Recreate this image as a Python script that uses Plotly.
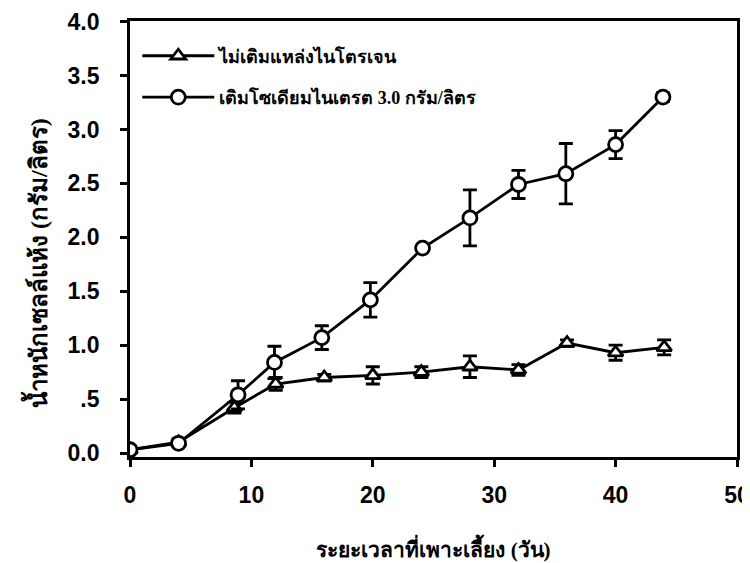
import plotly.graph_objects as go

days_tri = [0, 4, 8.6, 12, 16, 20, 24, 28, 32, 36, 40, 44]
no_nitrogen = [0.03, 0.10, 0.42, 0.64, 0.70, 0.72, 0.75, 0.80, 0.77, 1.02, 0.93, 0.98]
no_nitrogen_err = [0.02, 0.03, 0.05, 0.06, 0.03, 0.08, 0.05, 0.10, 0.05, 0.03, 0.07, 0.07]

days_circ = [0, 4, 8.9, 11.9, 15.8, 19.8, 24.1, 28, 32, 35.9, 40, 43.9]
nitrate = [0.03, 0.09, 0.54, 0.84, 1.07, 1.42, 1.90, 2.18, 2.49, 2.59, 2.86, 3.30]
nitrate_err = [0.02, 0.03, 0.13, 0.15, 0.11, 0.16, 0.02, 0.26, 0.13, 0.28, 0.13, 0.04]

label_tri = "ไม่เติมแหล่งไนโตรเจน"
label_circ = "เติมโซเดียมไนเตรต 3.0 กรัม/ลิตร"
x_title = "ระยะเวลาที่เพาะเลี้ยง (วัน)"
y_title = "น้ำหนักเซลล์แห้ง (กรัม/ลิตร)"

y_tickvals = [0, 0.5, 1.0, 1.5, 2.0, 2.5, 3.0, 3.5, 4.0]
y_ticktext = ["0.0", ".5", "1.0", "1.5", "2.0", "2.5", "3.0", "3.5", "4.0"]
x_tickvals = [0, 10, 20, 30, 40, 50]
x_ticktext = ["0", "10", "20", "30", "40", "50"]

thai_font = "Norasi, Liberation Serif, Times New Roman, serif"
tick_font = dict(family="Liberation Sans, Arial, sans-serif", size=23, color="black", weight="bold")

fig = go.Figure()
fig.add_trace(go.Scatter(
    x=days_tri, y=no_nitrogen, name=label_tri, mode="lines+markers", legendgroup="a",
    line=dict(color="black", width=2.8),
    marker=dict(symbol="triangle-up", size=13, color="white",
                line=dict(color="black", width=2.8)),
    error_y=dict(type="data", array=no_nitrogen_err, visible=True,
                 color="black", thickness=2.8, width=7),
))
fig.add_trace(go.Scatter(
    x=days_circ, y=nitrate, name=label_circ, mode="lines+markers", legendgroup="b",
    line=dict(color="black", width=2.8),
    marker=dict(symbol="circle", size=14, color="white",
                line=dict(color="black", width=2.8)),
    error_y=dict(type="data", array=nitrate_err, visible=True,
                 color="black", thickness=2.8, width=7),
))

# page body has an 8px default margin, so the figure is 742x555 and offset by 8px
fig.update_layout(
    template="none",
    width=742, height=555,
    margin=dict(l=122, r=13, t=13, b=106),
    plot_bgcolor="white", paper_bgcolor="white",
    showlegend=True,
    legend=dict(x=0.012, y=0.962, xanchor="left", yanchor="top",
                font=dict(family=thai_font, size=18, color="black", weight="bold"),
                bgcolor="rgba(0,0,0,0)", itemwidth=72, tracegroupgap=15),
    xaxis=dict(range=[0, 50], tickvals=x_tickvals, ticktext=x_ticktext, automargin=False,
               showline=True, linecolor="black",
               linewidth=2.8, mirror=True, ticks="outside", ticklen=7, tickwidth=2.8,
               tickcolor="black", showgrid=False, zeroline=False, tickfont=tick_font,
               ticklabelstandoff=8, ticklabeloverflow="allow",
               title=dict(text=x_title, font=dict(family=thai_font, size=21, color="black", weight="bold"),
                          standoff=36)),
    yaxis=dict(range=[-0.037, 4.006], tickvals=y_tickvals, ticktext=y_ticktext, automargin=False,
               showline=True, linecolor="black", linewidth=2.8, mirror=True,
               ticks="outside", ticklen=7, tickwidth=2.8, tickcolor="black",
               showgrid=False, zeroline=False, tickfont=tick_font,
               ticklabelstandoff=16, ticklabeloverflow="allow"),
    annotations=[dict(text=y_title, textangle=-90, xref="paper", yref="paper",
                      x=0, y=0.445, xshift=-94, xanchor="center", yanchor="middle",
                      showarrow=False,
                      font=dict(family=thai_font, size=24, color="black", weight="bold"))],
)
fig.write_html("out.html")
